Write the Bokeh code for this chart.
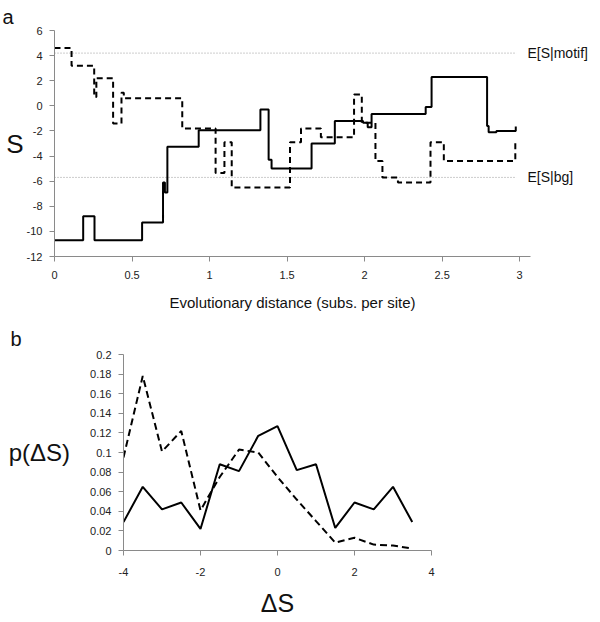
from bokeh.plotting import figure
from bokeh.models import FixedTicker, Range1d, CustomJSTickFormatter, LinearAxis, Title
from bokeh.embed import file_html
from bokeh.resources import INLINE

# ---------------- Panel a data ----------------
solid_x = [0.0, 0.185, 0.258, 0.565, 0.700, 0.712, 0.728, 0.930, 1.328, 1.381, 1.400,
           1.658, 1.808, 1.990, 2.020, 2.045, 2.394, 2.432, 2.790, 2.800, 2.850, 2.975]
solid_s = [-10.7, -8.8, -10.7, -9.3, -6.1, -6.9, -3.25, -1.95, -0.3, -4.3, -5.0,
           -3.0, -1.2, -1.35, -1.7, -0.65, -0.1, 2.3, -1.6, -2.1, -2.0, -1.65]

dashed_x = [0.0, 0.110, 0.256, 0.270, 0.378, 0.432, 0.447, 0.824, 1.039, 1.096, 1.143,
            1.519, 1.590, 1.718, 1.932, 1.982, 2.070, 2.115, 2.215, 2.425, 2.511, 2.972]
dashed_s = [4.6, 3.2, 0.7, 2.2, -1.4, 1.05, 0.6, -1.8, -5.35, -2.9, -6.5,
            -2.9, -1.8, -2.5, 0.9, -1.35, -4.4, -5.7, -6.1, -2.9, -4.4, -2.9]

E_motif = 4.2
E_bg = -5.7
ref_x = [0.0, 2.98]
ref_labels = ["E[S|motif]", "E[S|bg]"]

a_xticks = [0, 0.5, 1, 1.5, 2, 2.5, 3]
a_yticks = [-12, -10, -8, -6, -4, -2, 0, 2, 4, 6]

# ---------------- Panel b data ----------------
dS = [-4, -3.5, -3, -2.5, -2, -1.5, -1, -0.5, 0, 0.5, 1, 1.5, 2, 2.5, 3, 3.5]
p_solid = [0.029, 0.065, 0.042, 0.049, 0.022, 0.088, 0.081, 0.117, 0.127,
           0.082, 0.088, 0.023, 0.049, 0.042, 0.065, 0.029]
p_dashed = [0.095, 0.178, 0.101, 0.122, 0.041, 0.075, 0.103, 0.100, 0.075,
            0.052, 0.030, 0.008, 0.013, 0.006, 0.005, 0.002]

b_xticks = [-4, -2, 0, 2, 4]
b_yticks = [0, 0.02, 0.04, 0.06, 0.08, 0.1, 0.12, 0.14, 0.16, 0.18, 0.2]

FONT = "Liberation Sans"
AXIS_GREY = "#8a8a8a"
TXT = "#111111"


def fmt():
    return CustomJSTickFormatter(code="return tick.toString();")


def style_axis(ax):
    ax.axis_line_color = AXIS_GREY
    ax.axis_line_width = 1
    ax.major_tick_line_color = AXIS_GREY
    ax.major_tick_in = 0
    ax.major_tick_out = 5
    ax.minor_tick_line_color = None
    ax.major_label_text_font = FONT
    ax.major_label_text_font_size = "11px"
    ax.major_label_text_color = "#222222"
    ax.formatter = fmt()
    ax.axis_label_text_font = FONT
    ax.axis_label_text_font_style = "normal"
    ax.axis_label_text_color = TXT


def style(p):
    p.outline_line_color = None
    p.xgrid.visible = False
    p.ygrid.visible = False
    for ax in (p.xaxis[0], p.yaxis[0]):
        style_axis(ax)
    p.yaxis[0].major_label_standoff = 7


# ---------------- Panel a ----------------
pa = figure(width=600, height=313, output_backend="svg", toolbar_location=None,
            x_range=Range1d(0, 3.07), y_range=Range1d(-12, 6),
            min_border_left=54, min_border_right=70, min_border_top=30,
            min_border_bottom=57)
style(pa)
pa.xaxis.ticker = FixedTicker(ticks=a_xticks)
pa.yaxis.ticker = FixedTicker(ticks=a_yticks)
pa.xaxis.major_label_standoff = 9
pa.xaxis.axis_label = "Evolutionary distance (subs. per site)"
pa.xaxis.axis_label_text_font_size = "15px"
pa.xaxis.axis_label_standoff = 12
pa.yaxis.axis_label = "S"
pa.yaxis.axis_label_orientation = "horizontal"
pa.yaxis.axis_label_text_font_size = "26px"
pa.yaxis.axis_label_standoff = 0

ra = LinearAxis(ticker=FixedTicker(ticks=[E_motif, E_bg]),
                major_label_overrides={E_motif: ref_labels[0], E_bg: ref_labels[1]})
ra.axis_line_color = None
ra.major_tick_line_color = None
ra.minor_tick_line_color = None
ra.major_label_text_font = FONT
ra.major_label_text_font_size = "14px"
ra.major_label_text_color = TXT
ra.major_label_standoff = -9
pa.add_layout(ra, "right")

pa.add_layout(Title(text="a", text_font=FONT, text_font_size="20px",
                    text_font_style="normal", text_color=TXT, align="left",
                    offset=-52, standoff=6), "above")

pa.line(ref_x, [E_motif, E_motif], line_color="#999999", line_width=1, line_dash="1 2")
pa.line(ref_x, [E_bg, E_bg], line_color="#999999", line_width=1, line_dash="1 2")
pa.step(dashed_x, dashed_s, mode="after", line_color="black", line_width=2,
        line_dash="6 4")
pa.step(solid_x, solid_s, mode="after", line_color="black", line_width=2)

# ---------------- Panel b ----------------
pb = figure(width=600, height=309, output_backend="svg", toolbar_location=None,
            x_range=Range1d(-4, 4), y_range=Range1d(0, 0.2),
            min_border_left=123, min_border_right=169, min_border_top=41,
            min_border_bottom=72)
style(pb)
pb.xaxis.ticker = FixedTicker(ticks=b_xticks)
pb.yaxis.ticker = FixedTicker(ticks=b_yticks)
pb.xaxis.major_label_standoff = 12
pb.xaxis.axis_label = "ΔS"
pb.xaxis.axis_label_text_font_size = "25px"
pb.xaxis.axis_label_standoff = 10
pb.yaxis.axis_label = "p(ΔS)"
pb.yaxis.axis_label_orientation = "horizontal"
pb.yaxis.axis_label_text_font_size = "24px"
pb.yaxis.axis_label_standoff = 17

pb.add_layout(Title(text="b", text_font=FONT, text_font_size="20px",
                    text_font_style="normal", text_color=TXT, align="left",
                    offset=-113, standoff=9), "above")

pb.line(dS, p_dashed, line_color="black", line_width=2, line_dash="7 4")
pb.line(dS, p_solid, line_color="black", line_width=2)

open("out.html", "w").write(file_html([pa, pb], INLINE))
